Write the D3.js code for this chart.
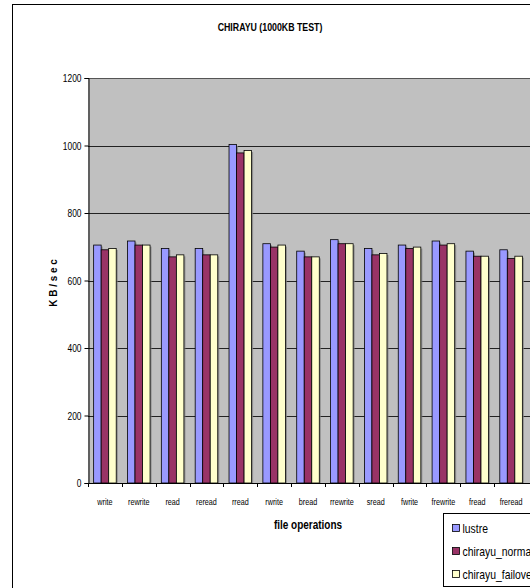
<!DOCTYPE html>
<html>
<head>
<meta charset="utf-8">
<script src="https://cdn.jsdelivr.net/npm/d3@7"></script>
<style>
  html, body { margin: 0; padding: 0; background: #fff; }
  svg { display: block; }
  text { font-family: "Liberation Sans", Arial, sans-serif; fill: #000; }
</style>
</head>
<body>
<svg id="chart" width="530" height="588"></svg>
<script>
// iozone throughput per file operation (KB/sec)
const categories = ["write", "rewrite", "read", "reread", "rread", "rwrite", "bread",
  "rrewrite", "sread", "fwrite", "frewrite", "fread", "freread"];
const seriesNames = ["lustre", "chirayu_normal", "chirayu_failover"];
const lustre          = [705, 717, 695, 695, 1003, 709, 687, 721, 695, 705, 717, 687, 691];
const chirayuNormal   = [691, 705, 670, 676,  978, 699, 670, 709, 676, 695, 705, 672, 665];
const chirayuFailover = [695, 705, 676, 676,  985, 705, 670, 709, 680, 699, 709, 672, 672];
const yTicks = [0, 200, 400, 600, 800, 1000, 1200];
const colors = ["#9999FF", "#993366", "#FFFFCC"];

const seriesValues = [lustre, chirayuNormal, chirayuFailover];
const rows = categories.map((c, i) => ({
  cat: c,
  vals: seriesNames.map((s, j) => ({ key: s, value: seriesValues[j][i] }))
}));

const svg = d3.select("#chart");
const plot = { left: 88, right: 528, top: 78, bottom: 483 };
const squeeze = 0.8; // narrow lettering

// place a horizontally condensed text label
function label(parent, x, y, str, opts = {}) {
  const t = parent.append("text")
    .attr("transform", `translate(${x},${y})${opts.rotate ? ` rotate(${opts.rotate})` : ""} scale(${opts.rotate ? 1 : squeeze},${opts.rotate ? 1 : 1})`)
    .attr("text-anchor", opts.anchor || "start")
    .attr("font-size", opts.size || 9)
    .attr("font-weight", opts.bold ? "bold" : "normal")
    .text(str);
  return t;
}

// outer chart frame
svg.append("rect")
  .attr("x", 12.5).attr("y", 4.5)
  .attr("width", 560).attr("height", 620)
  .attr("fill", "#fff").attr("stroke", "#000").attr("stroke-width", 1);

const x0 = d3.scaleBand().domain(categories).range([plot.left, plot.right]).padding(0);
const x1 = d3.scaleBand().domain(seriesNames).range([0, x0.bandwidth()])
  .paddingInner(0).paddingOuter(0.75);
const y = d3.scaleLinear().domain([0, 1200]).range([plot.bottom, plot.top]);

// plot area
svg.append("rect")
  .attr("x", plot.left).attr("y", plot.top)
  .attr("width", plot.right - plot.left + 10).attr("height", plot.bottom - plot.top)
  .attr("fill", "#C0C0C0");

// gridlines
svg.append("g").selectAll("line")
  .data(yTicks.filter(t => t > 0))
  .join("line")
  .attr("x1", plot.left).attr("x2", 540)
  .attr("y1", d => Math.round(y(d)) + 0.5).attr("y2", d => Math.round(y(d)) + 0.5)
  .attr("stroke", d => d === 1200 ? "#555" : "#222").attr("stroke-width", 1);

// bars with a soft drop shadow
const groups = svg.append("g").selectAll("g")
  .data(rows).join("g")
  .attr("transform", d => `translate(${x0(d.cat)},0)`);

groups.selectAll("rect.shadow")
  .data(d => d.vals).join("rect")
  .attr("class", "shadow")
  .attr("x", d => x1(d.key) + 1.5)
  .attr("y", d => y(d.value) + 1.5)
  .attr("width", x1.bandwidth())
  .attr("height", d => plot.bottom - y(d.value) - 1.5)
  .attr("fill", "#808080").attr("opacity", 0.8);

groups.selectAll("rect.bar")
  .data(d => d.vals).join("rect")
  .attr("class", "bar")
  .attr("x", d => x1(d.key))
  .attr("y", d => y(d.value))
  .attr("width", x1.bandwidth())
  .attr("height", d => plot.bottom - y(d.value))
  .attr("fill", (d, i) => colors[i])
  .attr("stroke", "#000").attr("stroke-width", 0.8);

// y axis
const yAxis = svg.append("g")
  .attr("transform", `translate(${plot.left + 0.5},0)`)
  .call(d3.axisLeft(y).tickValues(yTicks).tickSize(4).tickPadding(3).tickFormat(d3.format("d")));
yAxis.select(".domain").attr("stroke", "#000");
yAxis.selectAll(".tick line").attr("stroke", "#000");
yAxis.selectAll(".tick text")
  .attr("font-size", 10.5)
  .attr("x", null).attr("dy", null)
  .attr("transform", "translate(-7,3.5) scale(0.8,1)");

// x axis line and category boundary ticks
const xAxis = svg.append("g");
xAxis.append("line")
  .attr("x1", plot.left).attr("x2", 540)
  .attr("y1", plot.bottom + 0.5).attr("y2", plot.bottom + 0.5)
  .attr("stroke", "#000");
xAxis.selectAll("line.tick")
  .data(categories).join("line")
  .attr("class", "tick")
  .attr("x1", d => Math.round(x0(d)) + 0.5).attr("x2", d => Math.round(x0(d)) + 0.5)
  .attr("y1", plot.bottom).attr("y2", plot.bottom + 4)
  .attr("stroke", "#000");
categories.forEach(c => {
  label(xAxis, x0(c) + x0.bandwidth() / 2, plot.bottom + 22, c, { anchor: "middle", size: 9 });
});

// titles
label(svg, 270, 31, "CHIRAYU (1000KB TEST)", { anchor: "middle", size: 11, bold: true });
label(svg, (plot.left + plot.right) / 2, 529, "file operations", { anchor: "middle", size: 12.5, bold: true });
svg.append("text")
  .attr("transform", `translate(57,283) rotate(-90) scale(0.9,1)`)
  .attr("text-anchor", "middle")
  .attr("font-size", 11).attr("font-weight", "bold")
  .text("K B / s e c");

// legend
const legend = svg.append("g").attr("transform", "translate(443.5,513.5)");
legend.append("rect")
  .attr("width", 120).attr("height", 73)
  .attr("fill", "#fff").attr("stroke", "#000");
seriesNames.forEach((s, i) => {
  const item = legend.append("g").attr("transform", `translate(9,${15 + i * 23})`);
  item.append("rect")
    .attr("x", 0).attr("y", -4)
    .attr("width", 7).attr("height", 7)
    .attr("fill", colors[i]).attr("stroke", "#000").attr("stroke-width", 0.8);
  label(item, 10, 4.5, s, { size: 13 });
});
</script>
</body>
</html>
